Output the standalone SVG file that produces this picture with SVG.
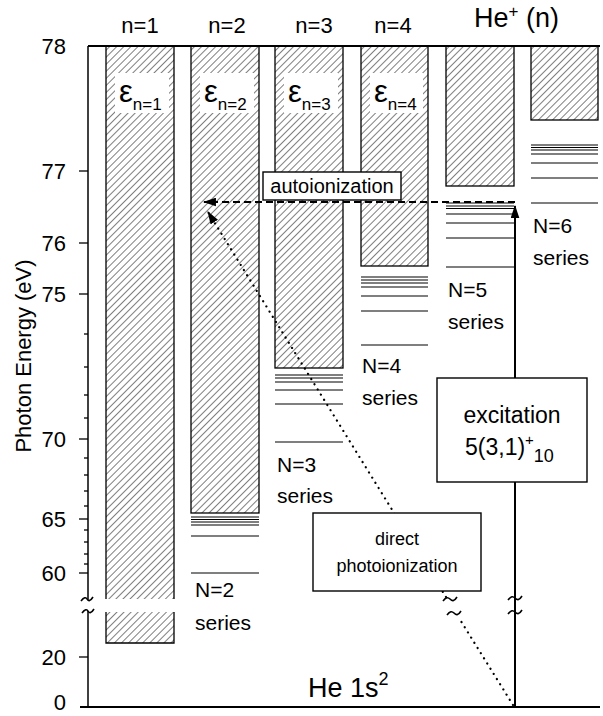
<svg xmlns="http://www.w3.org/2000/svg" width="603" height="716" viewBox="0 0 603 716">
<defs>
<pattern id="hatch" patternUnits="userSpaceOnUse" width="5" height="5" patternTransform="rotate(45)">
<line x1="0" y1="0" x2="0" y2="5" stroke="#000" stroke-width="1"/>
</pattern>
<marker id="ah" viewBox="0 0 12 8" refX="11" refY="4" markerWidth="13" markerHeight="9" orient="auto" markerUnits="userSpaceOnUse">
<path d="M0,0 L12,4 L0,8 z" fill="#000"/>
</marker>
</defs>
<style>
text{font-family:"Liberation Sans",Arial,Helvetica,sans-serif;fill:#000}
.col{fill:url(#hatch);stroke:#000;stroke-width:1.3}
.hf{fill:url(#hatch)}
.bd{fill:none;stroke:#000;stroke-width:1.3}
.lvl{stroke:#000;stroke-width:1.2;fill:none}
.tick{stroke:#000;stroke-width:1.3;fill:none}
.axis{stroke:#000;stroke-width:1.5;fill:none}
.base{stroke:#000;stroke-width:2.2;fill:none}
.tl{font-size:22px;text-anchor:end}
.nl{font-size:22px;text-anchor:middle}
.ser{font-size:21px}
.eps{font-size:31px}
.sub{font-size:17px}
.wb{fill:#fff;stroke:none}
.box{fill:#fff;stroke:#000;stroke-width:1.4}
.tilde{fill:none;stroke:#000;stroke-width:1.6}
</style>

<g id="axis">
<line class="axis" x1="88" y1="46" x2="88" y2="600"/>
<line class="axis" x1="88" y1="611" x2="88" y2="707"/>
<path class="tilde" d="M81,601 c3,-4 5,-4 6,-2 s3,3 6,-2"/>
<path class="tilde" d="M82,613 c3,-4 5,-4 6,-2 s3,3 6,-2"/>
<g class="tick">
<line x1="79" y1="171" x2="88" y2="171"/>
<line x1="79" y1="243" x2="88" y2="243"/>
<line x1="79" y1="294" x2="88" y2="294"/>
<line x1="79" y1="439" x2="88" y2="439"/>
<line x1="79" y1="519" x2="88" y2="519"/>
<line x1="79" y1="573" x2="88" y2="573"/>
<line x1="79" y1="657" x2="88" y2="657"/>
<line x1="84" y1="334" x2="88" y2="334"/>
<line x1="84" y1="367" x2="88" y2="367"/>
<line x1="84" y1="395" x2="88" y2="395"/>
<line x1="84" y1="418" x2="88" y2="418"/>
<line x1="84" y1="458" x2="88" y2="458"/>
<line x1="84" y1="475" x2="88" y2="475"/>
<line x1="84" y1="491" x2="88" y2="491"/>
<line x1="84" y1="506" x2="88" y2="506"/>
<line x1="84" y1="530" x2="88" y2="530"/>
<line x1="84" y1="542" x2="88" y2="542"/>
<line x1="84" y1="554" x2="88" y2="554"/>
<line x1="84" y1="564" x2="88" y2="564"/>
</g>
<text class="tl" x="66" y="54">78</text>
<text class="tl" x="66" y="179">77</text>
<text class="tl" x="66" y="251">76</text>
<text class="tl" x="66" y="302">75</text>
<text class="tl" x="66" y="447">70</text>
<text class="tl" x="66" y="527">65</text>
<text class="tl" x="66" y="581">60</text>
<text class="tl" x="66" y="665">20</text>
<text class="tl" x="66" y="710">0</text>
<text transform="translate(31,356) rotate(-90)" font-size="22" text-anchor="middle">Photon Energy (eV)</text>
</g>

<g id="col1">
<rect class="hf" x="106" y="46" width="68" height="553"/>
<rect class="hf" x="106" y="612" width="68" height="31"/>
<path class="bd" d="M106,46 V599 M174,46 V599 M106,612 V643 H174 V612"/>
<rect class="wb" x="115" y="73" width="54" height="40"/>
<text x="119" y="102"><tspan class="eps">ε</tspan><tspan class="sub" dy="8">n=1</tspan></text>
<text class="nl" x="140" y="33">n=1</text>
</g>

<g id="col2">
<rect class="col" x="191" y="46" width="68" height="467"/>
<rect class="wb" x="200" y="73" width="54" height="40"/>
<text x="204" y="102"><tspan class="eps">ε</tspan><tspan class="sub" dy="8">n=2</tspan></text>
<text class="nl" x="227" y="33">n=2</text>
<g class="lvl">
<line x1="191" y1="517" x2="259" y2="517"/>
<line x1="191" y1="519.5" x2="259" y2="519.5"/>
<line x1="191" y1="522" x2="259" y2="522"/>
<line x1="191" y1="525" x2="259" y2="525"/>
<line x1="191" y1="536" x2="259" y2="536"/>
<line x1="191" y1="573" x2="259" y2="573"/>
</g>
<text class="ser" x="195" y="597">N=2</text>
<text class="ser" x="195" y="630">series</text>
</g>

<g id="col3">
<rect class="col" x="275" y="46" width="68" height="322"/>
<rect class="wb" x="284" y="73" width="54" height="40"/>
<text x="288" y="102"><tspan class="eps">ε</tspan><tspan class="sub" dy="8">n=3</tspan></text>
<text class="nl" x="314" y="33">n=3</text>
<g class="lvl">
<line x1="275" y1="375" x2="343" y2="375"/>
<line x1="275" y1="378" x2="343" y2="378"/>
<line x1="275" y1="382" x2="343" y2="382"/>
<line x1="275" y1="390" x2="343" y2="390"/>
<line x1="275" y1="404" x2="343" y2="404"/>
<line x1="275" y1="442" x2="343" y2="442"/>
</g>
<text class="ser" x="277" y="472">N=3</text>
<text class="ser" x="277" y="503">series</text>
</g>

<g id="col4">
<rect class="col" x="361" y="46" width="67" height="220"/>
<rect class="wb" x="370" y="73" width="53" height="40"/>
<text x="374" y="102"><tspan class="eps">ε</tspan><tspan class="sub" dy="8">n=4</tspan></text>
<text class="nl" x="393" y="33">n=4</text>
<g class="lvl">
<line x1="361" y1="277" x2="428" y2="277"/>
<line x1="361" y1="280" x2="428" y2="280"/>
<line x1="361" y1="283" x2="428" y2="283"/>
<line x1="361" y1="287" x2="428" y2="287"/>
<line x1="361" y1="296" x2="428" y2="296"/>
<line x1="361" y1="311" x2="428" y2="311"/>
<line x1="361" y1="345" x2="428" y2="345"/>
</g>
<text class="ser" x="362" y="373">N=4</text>
<text class="ser" x="362" y="405">series</text>
</g>

<g id="col5">
<rect class="col" x="446" y="46" width="68" height="140"/>
<g class="lvl">
<line x1="446" y1="203" x2="514" y2="203"/>
<line x1="446" y1="206" x2="514" y2="206"/>
<line x1="446" y1="208.5" x2="514" y2="208.5"/>
<line x1="446" y1="214" x2="514" y2="214"/>
<line x1="446" y1="223" x2="514" y2="223"/>
<line x1="446" y1="238" x2="514" y2="238"/>
<line x1="446" y1="267" x2="514" y2="267"/>
</g>
<text class="ser" x="448" y="297">N=5</text>
<text class="ser" x="448" y="329">series</text>
</g>

<g id="col6">
<rect class="col" x="531" y="46" width="67" height="74"/>
<g class="lvl">
<line x1="531" y1="145" x2="598" y2="145"/>
<line x1="531" y1="147.5" x2="598" y2="147.5"/>
<line x1="531" y1="150" x2="598" y2="150"/>
<line x1="531" y1="154" x2="598" y2="154"/>
<line x1="531" y1="163" x2="598" y2="163"/>
<line x1="531" y1="178" x2="598" y2="178"/>
<line x1="531" y1="203" x2="598" y2="203"/>
</g>
<text class="ser" x="533" y="233">N=6</text>
<text class="ser" x="533" y="265">series</text>
</g>

<g id="frame">
<line class="base" x1="88" y1="46" x2="600" y2="46"/>
<line class="base" x1="80" y1="707" x2="600" y2="707"/>
<text x="474" y="27" font-size="27">He<tspan font-size="17" dy="-10">+</tspan><tspan dy="10"> (n)</tspan></text>
<text x="308" y="697" font-size="27">He 1s<tspan font-size="18" dy="-12">2</tspan></text>
</g>

<g id="connectors">
<line x1="515" y1="202" x2="204" y2="202" stroke="#000" stroke-width="1.8" stroke-dasharray="7 4" marker-end="url(#ah)"/>
<line x1="513" y1="705" x2="459" y2="618" stroke="#000" stroke-width="2.2" stroke-dasharray="0.1 6" stroke-linecap="round"/>
<line x1="446" y1="597" x2="208" y2="212" stroke="#000" stroke-width="2.2" stroke-dasharray="0.1 6" stroke-linecap="round" marker-end="url(#ah)"/>
<path class="tilde" d="M443,601 c3,-4 5,-4 7,-2 s4,3 7,-2"/>
<path class="tilde" d="M447,615 c3,-4 5,-4 7,-2 s4,3 7,-2"/>
<line x1="515" y1="707" x2="515" y2="206" stroke="#000" stroke-width="2" marker-end="url(#ah)"/>
<path class="tilde" d="M508,600 c3,-4 5,-4 7,-2 s4,3 7,-2"/>
<path class="tilde" d="M508,614 c3,-4 5,-4 7,-2 s4,3 7,-2"/>
</g>

<g id="autoionization">
<rect class="box" x="263" y="172" width="138" height="28"/>
<text x="332" y="193" font-size="20" text-anchor="middle">autoionization</text>
</g>

<g id="excitation">
<rect class="box" x="437" y="378" width="150" height="104"/>
<text x="512" y="423" font-size="23" text-anchor="middle">excitation</text>
<text x="465" y="455" font-size="23">5(3,1)<tspan font-size="15" dy="-10">+</tspan><tspan font-size="18" dy="17">10</tspan></text>
</g>

<g id="photoionization">
<rect class="box" x="313" y="513" width="168" height="78"/>
<text x="397" y="545" font-size="18" text-anchor="middle">direct</text>
<text x="397" y="572" font-size="18" text-anchor="middle">photoionization</text>
</g>
</svg>
